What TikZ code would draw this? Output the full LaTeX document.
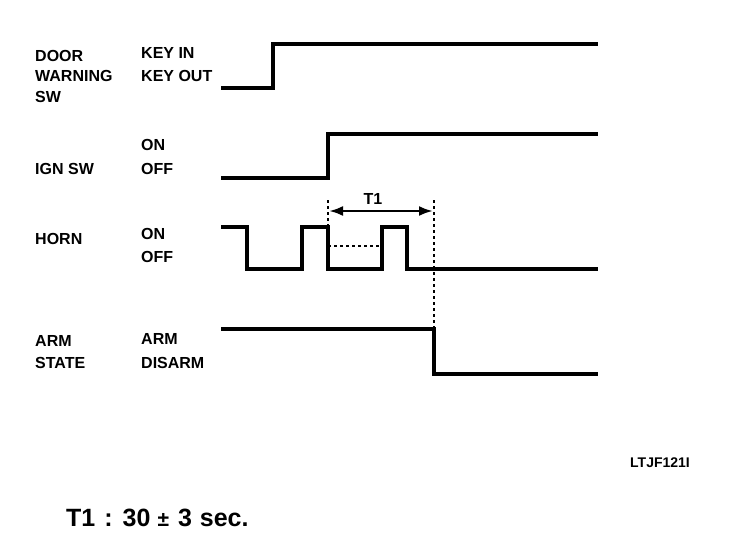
\documentclass[tikz,border=0pt]{standalone}
\usepackage{fontspec}
\setmainfont{Liberation Sans}
\usetikzlibrary{arrows.meta}
\begin{document}
\begin{tikzpicture}[x=1pt,y=-1pt,
  lbl/.style={anchor=west,inner sep=0pt,font=\fontsize{16}{16}\selectfont\bfseries},
  wave/.style={line width=3.2pt,line join=miter},
  guide/.style={line width=1.4pt,dash pattern=on 3pt off 3pt}]
\useasboundingbox (0,0) rectangle (736,546);
% labels
\node[lbl] (door) at (35,56) {DOOR};
\node[lbl] (warn) at (35,76) {WARNING};
\node[lbl] (sw) at (35,97) {SW};
\node[lbl] (keyin) at (141,53) {KEY IN};
\node[lbl] (keyout) at (141,76) {KEY OUT};
\node[lbl] (ignon) at (141,145) {ON};
\node[lbl] (ignoff) at (141,169) {OFF};
\node[lbl] (ign) at (35,169) {IGN SW};
\node[lbl] (horn) at (35,239) {HORN};
\node[lbl] (hornon) at (141,234) {ON};
\node[lbl] (hornoff) at (141,257) {OFF};
\node[lbl] (arm) at (35,341) {ARM};
\node[lbl] (state) at (35,363) {STATE};
\node[lbl] (armarm) at (141,339) {ARM};
\node[lbl] (disarm) at (141,363) {DISARM};
\node[lbl,anchor=center,font=\fontsize{14}{14}\selectfont\bfseries] (code) at (660,463) {LTJF121I};
\node[anchor=west,inner sep=0pt,font=\fontsize{25}{25}\selectfont\bfseries] (note) at (66,518) {T1\hspace{9pt}:\hspace{10pt}30\hspace{7pt}{\fontsize{21}{21}\selectfont ±}\hspace{9pt}3\hspace{8pt}sec.};
% waveforms
\draw[wave] (221,88) -- (273,88) -- (273,44) -- (598,44);
\draw[wave] (221,178) -- (328,178) -- (328,134) -- (598,134);
\draw[wave] (221,227) -- (247,227) -- (247,269) -- (302,269) -- (302,227) -- (328,227) -- (328,269) -- (382,269) -- (382,227) -- (407,227) -- (407,269) -- (598,269);
\draw[wave] (221,329) -- (434,329) -- (434,374) -- (598,374);
% guides
\draw[guide] (328,246) -- (382,246);
\draw[guide] (328,200) -- (328,227);
\draw[guide] (434,200) -- (434,329);
\coordinate (t1a) at (329,211);
\coordinate (t1b) at (433,211);
\draw[line width=2.6pt,{Latex[length=14pt,width=10pt]}-{Latex[length=14pt,width=10pt]}] (t1a) -- (t1b);
\node[lbl,anchor=center] (t1) at (373,199) {T1};
\end{tikzpicture}
\end{document}
